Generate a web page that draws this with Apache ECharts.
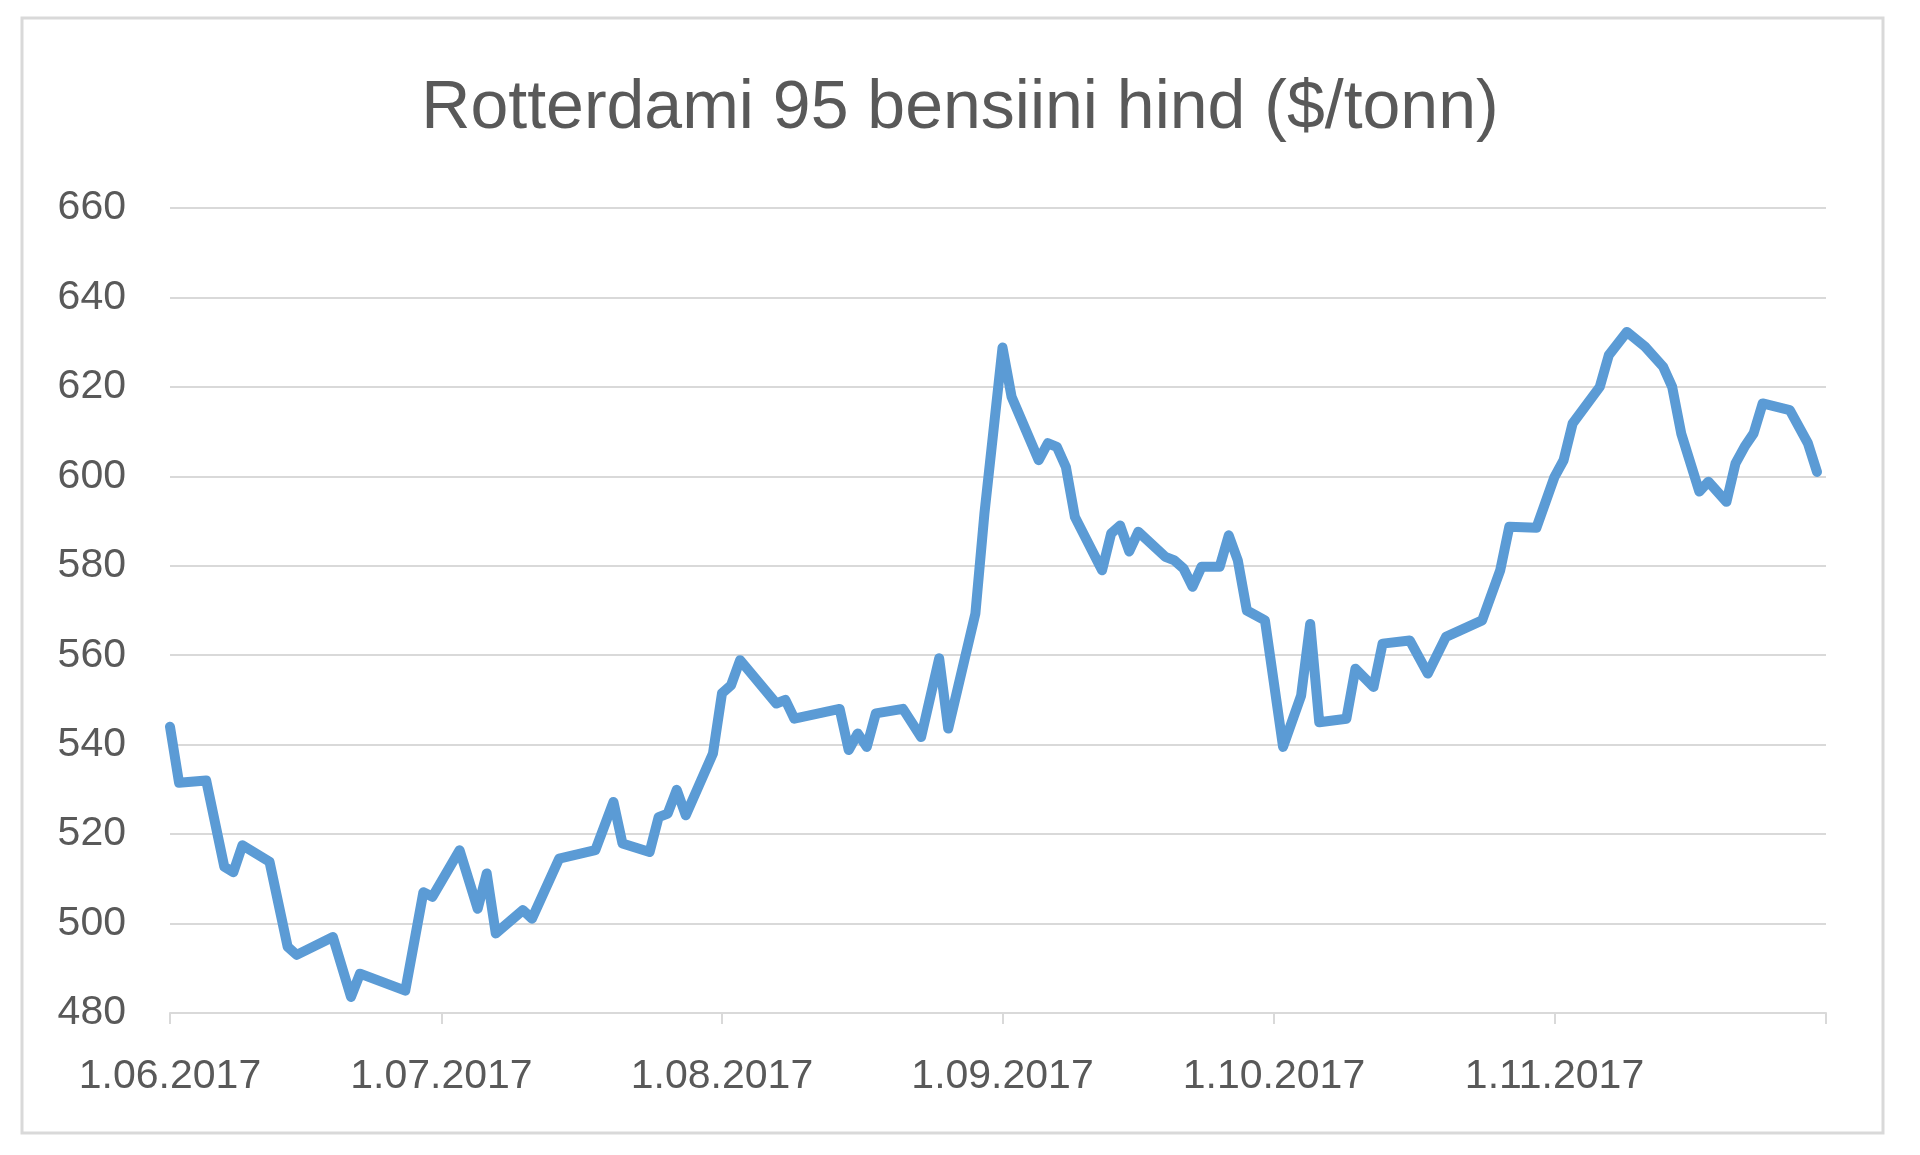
<!DOCTYPE html>
<html>
<head>
<meta charset="utf-8">
<title>Rotterdami 95 bensiini hind</title>
<script src="https://cdn.jsdelivr.net/npm/echarts@6/dist/echarts.min.js"></script>
<style>
  html, body { margin: 0; padding: 0; background: #fff; }
  #main { width: 1920px; height: 1155px; }
</style>
</head>
<body>
<div id="main"></div>
<script>
// kuupäevad ja hinnad ($/tonn), loetud pildilt
const dates = [
  '2017-06-01', '2017-06-02', '2017-06-05', '2017-06-07', '2017-06-08', '2017-06-09', '2017-06-12',
  '2017-06-14', '2017-06-15', '2017-06-19', '2017-06-21', '2017-06-22', '2017-06-27', '2017-06-29',
  '2017-06-30', '2017-07-03', '2017-07-05', '2017-07-06', '2017-07-07', '2017-07-10', '2017-07-11',
  '2017-07-14', '2017-07-18', '2017-07-20', '2017-07-21', '2017-07-24', '2017-07-25', '2017-07-26',
  '2017-07-27', '2017-07-28', '2017-07-31', '2017-08-01', '2017-08-02', '2017-08-03', '2017-08-07',
  '2017-08-08', '2017-08-09', '2017-08-14', '2017-08-15', '2017-08-16', '2017-08-17', '2017-08-18',
  '2017-08-21', '2017-08-23', '2017-08-25', '2017-08-26', '2017-08-29', '2017-08-30', '2017-09-01',
  '2017-09-02', '2017-09-05', '2017-09-06', '2017-09-07', '2017-09-08', '2017-09-09', '2017-09-12',
  '2017-09-13', '2017-09-14', '2017-09-15', '2017-09-16', '2017-09-19', '2017-09-20', '2017-09-21',
  '2017-09-22', '2017-09-23', '2017-09-25', '2017-09-26', '2017-09-27', '2017-09-28', '2017-09-30',
  '2017-10-02', '2017-10-04', '2017-10-05', '2017-10-06', '2017-10-09', '2017-10-10', '2017-10-12',
  '2017-10-13', '2017-10-16', '2017-10-18', '2017-10-20', '2017-10-24', '2017-10-26', '2017-10-27',
  '2017-10-30', '2017-11-01', '2017-11-02', '2017-11-03', '2017-11-06', '2017-11-07', '2017-11-09',
  '2017-11-11', '2017-11-13', '2017-11-14', '2017-11-15', '2017-11-17', '2017-11-18', '2017-11-20',
  '2017-11-21', '2017-11-22', '2017-11-23', '2017-11-24', '2017-11-27', '2017-11-29', '2017-11-30'
]
const prices = [
  544, 531.5, 532, 512.7, 511.5, 517.5, 513.8,
  494.8, 493, 497, 483.6, 488.8, 485, 507,
  506, 516.4, 503.3, 511.2, 497.8, 503, 501.1,
  514.5, 516.4, 527.2, 517.9, 516, 523.8, 524.6,
  529.9, 524.2, 538, 551.5, 553.3, 558.9, 549.2,
  550, 545.8, 548, 538.8, 542.5, 539.5, 547,
  548, 541.7, 559.3, 543.6, 569.3, 591.7, 628.8,
  617.8, 603.6, 607.4, 606.6, 602.1, 590.9, 579,
  587.2, 589, 583.2, 587.6, 582, 581.2, 579.4,
  575.3, 579.8, 579.8, 586.8, 581.2, 570, 567.8,
  539.5, 551, 567, 545, 545.8, 557, 552.9,
  562.6, 563.3, 555.9, 564.1, 567.8, 579, 588.7,
  588.5, 599.9, 603.6, 611.8, 620, 627.1, 632.3,
  629, 624.5, 620, 609.6, 596.6, 598.8, 594.3,
  602.9, 606.6, 609.6, 616.3, 614.8, 607.4, 601
]
// kuu algused (sildid) ja telje lõpp
const monthLabels = ['2017-06-01', '2017-07-01', '2017-08-01', '2017-09-01', '2017-10-01', '2017-11-01']
const axisEnd = '2017-12-01'
const yMin = 480
const yMax = 660
const yStep = 20

// päevi alates 1.06.2017 (x-telg on päevade arv)
const DAY = 86400000
const toUTC = s => {
  const p = s.split('-').map(Number)
  return Date.UTC(p[0], p[1] - 1, p[2])
}
const start = toUTC(monthLabels[0])
const toDay = s => Math.round((toUTC(s) - start) / DAY)
const fmtDay = v => {
  const d = new Date(start + Math.round(v) * DAY)
  const m = d.getUTCMonth() + 1
  return `${d.getUTCDate()}.${m < 10 ? '0' + m : m}.${d.getUTCFullYear()}`
}

const font = 'Liberation Sans, Arial, sans-serif'
const textColor = '#595959'
const gridColor = '#D9D9D9'

const myChart = echarts.init(document.getElementById('main'))
const option = {
  backgroundColor: '#fff',
  animation: false,
  title: {
    text: 'Rotterdami 95 bensiini hind ($/tonn)',
    left: 'center',
    top: 70,
    textStyle: {
      fontFamily: font,
      fontSize: 68,
      fontWeight: 'normal',
      color: textColor
    }
  },
  graphic: [
    {
      type: 'rect',
      shape: { x: 22, y: 18, width: 1861, height: 1115 },
      style: { fill: null, stroke: gridColor, lineWidth: 3 },
      silent: true
    }
  ],
  grid: {
    left: 170,
    right: 94,
    top: 208,
    bottom: 142,
    containLabel: false
  },
  xAxis: {
    type: 'value',
    min: 0,
    max: toDay(axisEnd),
    axisLine: { show: true, onZero: false, lineStyle: { color: gridColor, width: 2 } },
    axisTick: {
      show: true,
      length: 11,
      lineStyle: { color: gridColor, width: 2 },
      customValues: monthLabels.concat([axisEnd]).map(toDay)
    },
    axisLabel: {
      customValues: monthLabels.map(toDay),
      formatter: v => fmtDay(v),
      fontFamily: font,
      fontSize: 41,
      color: textColor,
      margin: 43
    },
    splitLine: { show: false }
  },
  yAxis: {
    type: 'value',
    min: yMin,
    max: yMax,
    interval: yStep,
    axisLine: { show: false },
    axisTick: { show: false },
    axisLabel: {
      fontFamily: font,
      fontSize: 41,
      color: textColor,
      margin: 44
    },
    splitLine: { show: true, lineStyle: { color: gridColor, width: 2 } }
  },
  series: [
    {
      name: 'Rotterdami 95',
      type: 'line',
      data: dates.map((d, i) => [toDay(d), prices[i]]),
      showSymbol: false,
      symbol: 'none',
      lineStyle: { color: '#5B9BD5', width: 10, cap: 'round', join: 'round' },
      itemStyle: { color: '#5B9BD5' }
    }
  ]
}
myChart.setOption(option)
</script>
</body>
</html>
